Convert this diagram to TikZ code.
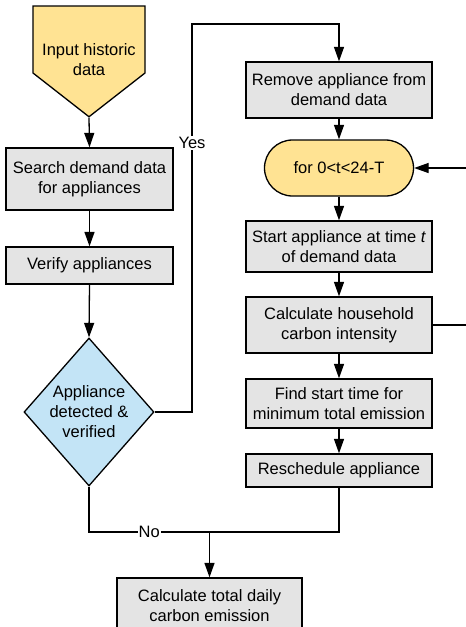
\documentclass[tikz,border=0pt]{standalone}
\usepackage{fontspec}
\setmainfont{Liberation Sans}
\usetikzlibrary{arrows.meta,positioning,shapes.geometric,shapes.misc,shapes.symbols}

\definecolor{boxgray}{HTML}{E4E4E4}
\definecolor{dataYellow}{HTML}{FFE393}
\definecolor{askBlue}{HTML}{C3E4F6}

\begin{document}
\begin{tikzpicture}[x=1pt, y=-1pt,
	every node/.style={font=\fontsize{16.5}{20}\selectfont, align=center},
	process/.style={rectangle, draw, line width=1.3pt, fill=boxgray, inner sep=0pt},
	terminal/.style={rounded rectangle, draw, line width=1.3pt, fill=dataYellow, inner sep=0pt},
	datain/.style={signal, signal to=south, signal from=nowhere, signal pointer angle=104,
		draw, line width=1.3pt, fill=dataYellow, inner sep=0pt},
	decision/.style={diamond, aspect=0.88, draw, line width=1.3pt, fill=askBlue, inner sep=-3pt},
	link/.style={line width=1.3pt},
	flow/.style={line width=1.3pt, -{Triangle[length=14.5pt, width=10pt]}},
	answer/.style={fill=white, inner sep=1pt}]

	\useasboundingbox (0,0) rectangle (466,627);
	\clip (0,0) rectangle (466,627);

	% left column
	\node [datain, minimum width=112pt, minimum height=67pt]	(Input)		at (89,39.5)	{};
	\node (InputText) at (89,60) {Input historic\\data};
	\node [process, minimum width=167pt, minimum height=62pt]	(Search)	at (89.5,179)	{Search demand data\\for appliances};
	\node [process, minimum width=167pt, minimum height=37pt]	(Verify)	at (89.5,265.5)	{Verify appliances};
	\node [decision, minimum width=130pt, minimum height=148pt]	(Detected)	at (89,412)		{Appliance\\detected \&\\verified};

	% right column
	\node [process, minimum width=186pt, minimum height=56pt]	(Remove)	at (339,90)		{Remove appliance from\\demand data};
	\node [terminal, minimum width=149pt, minimum height=56pt]	(Loop)		at (339,168)	{for 0<t<24-T};
	\node [process, minimum width=186pt, minimum height=51pt]	(Start)		at (339,246.5)	{Start appliance at time \textit{t}\\of demand data};
	\node [process, minimum width=186pt, minimum height=56pt]	(Intensity)	at (339,325)	{Calculate household\\carbon intensity};
	\node [process, minimum width=186pt, minimum height=49pt]	(Find)		at (339,403.5)	{Find start time for\\minimum total emission};
	\node [process, minimum width=186pt, minimum height=33pt]	(Reschedule)	at (339,470.5)	{Reschedule appliance};

	% bottom
	\node [process, minimum width=185pt, minimum height=56pt]	(Total)		at (209.5,606)	{Calculate total daily\\carbon emission};

	\coordinate (YesTop)		at (192,24);
	\coordinate (Merge)			at (209.5,532);
	\coordinate (LoopIn)		at (466,168);
	\coordinate (IntensityOut)	at (466,325);

	\draw [flow] (Input.south) -- (Search.north);
	\draw [flow] (Search.south) -- (Verify.north);
	\draw [flow] (Verify.south) -- (Detected.north);
	\draw [flow] (Detected.east) -| (YesTop) -| (Remove.north);
	\node [answer] (YesLabel) at (192,143) {Yes};

	\draw [flow] (Remove.south) -- (Loop.north);
	\draw [flow] (Loop.south) -- (Start.north);
	\draw [flow] (Start.south) -- (Intensity.north);
	\draw [flow] (Intensity.south) -- (Find.north);
	\draw [flow] (Find.south) -- (Reschedule.north);
	\draw [flow] (LoopIn) -- (Loop.east);
	\draw [link] (Intensity.east) -- (IntensityOut);

	\draw [link] (Detected.south) |- (Merge) node [answer, pos=0.75] (NoLabel) {No};
	\draw [link] (Reschedule.south) |- (Merge);
	\draw [flow] (Merge) -- (Total.north);
\end{tikzpicture}
\end{document}
